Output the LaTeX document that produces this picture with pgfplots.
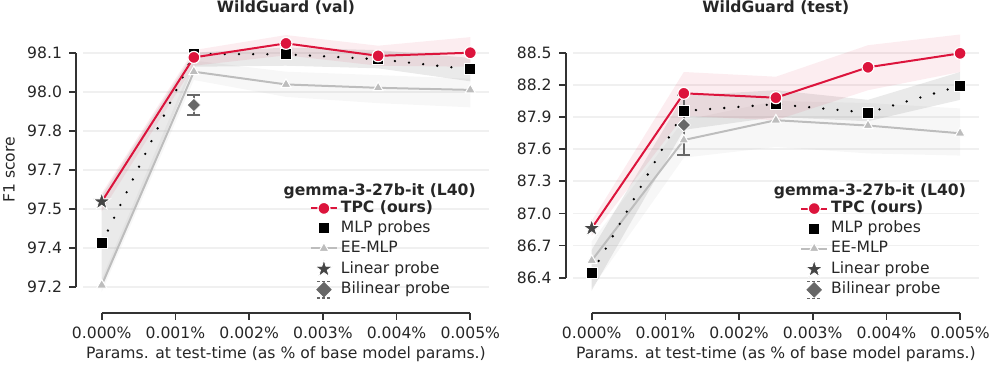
\documentclass[border=0pt]{standalone}
\usepackage{fontspec}
\setmainfont{DejaVu Sans}
\usepackage{pgfplots}
\pgfplotsset{compat=1.18}
\usetikzlibrary{plotmarks}

\definecolor{tpcred}{HTML}{DC143C}
\definecolor{eegray}{HTML}{BDBDBD}
\definecolor{stargray}{HTML}{454545}
\definecolor{diagray}{HTML}{686868}
\definecolor{txt}{HTML}{262626}

% filled five-point star
\pgfdeclareplotmark{fstar}{%
  \pgfpathmoveto{\pgfpointpolar{90}{\pgfplotmarksize}}%
  \pgfpathlineto{\pgfpointpolar{126}{0.382\pgfplotmarksize}}%
  \pgfpathlineto{\pgfpointpolar{162}{\pgfplotmarksize}}%
  \pgfpathlineto{\pgfpointpolar{198}{0.382\pgfplotmarksize}}%
  \pgfpathlineto{\pgfpointpolar{234}{\pgfplotmarksize}}%
  \pgfpathlineto{\pgfpointpolar{270}{0.382\pgfplotmarksize}}%
  \pgfpathlineto{\pgfpointpolar{306}{\pgfplotmarksize}}%
  \pgfpathlineto{\pgfpointpolar{342}{0.382\pgfplotmarksize}}%
  \pgfpathlineto{\pgfpointpolar{18}{\pgfplotmarksize}}%
  \pgfpathlineto{\pgfpointpolar{54}{0.382\pgfplotmarksize}}%
  \pgfpathclose\pgfusepathqfillstroke}

\newcommand{\fs}{\fontsize{7.8}{9.4}\selectfont}

\pgfplotsset{
  panel/.style={
    scale only axis, clip=false,
    axis lines*=left,
    axis line style={draw=none},
    tick align=outside, major tick length=3.5pt,
    tick style={draw=none},
    tick label style={font=\fs, text=txt},
    scaled ticks=false,
    /pgf/number format/assume math mode=true,
    xmin=-0.00025, xmax=0.00525,
    xtick={0,0.001,0.002,0.003,0.004,0.005},
    xticklabels={0.000\%,0.001\%,0.002\%,0.003\%,0.004\%,0.005\%},
    ymajorgrids, grid style={draw=black!6, line width=0.8pt},
    xlabel={Params. at test-time (as \% of base model params.)},
    label style={font=\fs, text=txt},
    every axis title/.style={at={(0.5,1)}, anchor=center, font=\fs\bfseries, text=txt},
    legend cell align=left,
    legend style={draw=none, fill=none, inner sep=0pt, outer sep=0pt,
      row sep=1.5pt, column sep=1.5pt, font=\fs, text=txt, anchor=north west,
      nodes={inner sep=0pt, text height=6.2pt, text depth=2.3pt}},
    legend image code/.code={\draw[mark repeat=2,mark phase=2,#1]
      plot coordinates {(0pt,0pt) (6.5pt,0pt) (13pt,0pt)};},
  },
  tpcband/.style={fill=tpcred, fill opacity=0.08, draw=none, forget plot},
  mlpband/.style={fill=gray, fill opacity=0.17, draw=none, forget plot},
  eeband/.style={fill=eegray, fill opacity=0.12, draw=none, forget plot},
  eeline/.style={eegray, line width=1pt, mark=triangle*, mark size=2.9pt,
    mark options={fill=eegray, draw=white, line width=0.5pt}, forget plot},
  mlpline/.style={black, line width=1.3pt, line cap=round, dash pattern=on 0pt off 7.1pt,
    mark=square*, mark size=2.75pt,
    mark options={solid, fill=black, draw=white, line width=0.5pt}, forget plot},
  tpcline/.style={tpcred, line width=1pt, mark=*, mark size=3pt, mark indices={2,3,4,5},
    mark options={fill=tpcred, draw=white, line width=0.6pt}, forget plot},
  linstar/.style={only marks, mark=fstar, mark size=4.6pt,
    mark options={fill=stargray, draw=white, line width=0.4pt}, forget plot},
  bilin/.style={forget plot, only marks, mark=square*, mark size=2.4pt,
    mark options={rotate=45, fill=diagray, draw=white, line width=0.4pt},
    error bars/.cd, y dir=both, y explicit,
    error bar style={diagray, line width=0.8pt},
    error mark options={rotate=90, diagray, mark size=3.2pt, line width=0.8pt},
    /pgfplots/.cd},
  legendset/.code={
    \addlegendimage{tpcred, line width=1pt, mark=*, mark size=3pt,
      mark options={fill=tpcred, draw=white, line width=0.6pt}}
    \addlegendentry{\textbf{TPC (ours)}}
    \addlegendimage{only marks, mark=square*, mark size=2.75pt,
      mark options={fill=black, draw=white, line width=0.5pt}}
    \addlegendentry{MLP probes}
    \addlegendimage{eegray, line width=1pt, mark=triangle*, mark size=2.9pt,
      mark options={fill=eegray, draw=white, line width=0.5pt}}
    \addlegendentry{EE-MLP}
    \addlegendimage{only marks, mark=fstar, mark size=4.6pt,
      mark options={fill=stargray, draw=white, line width=0.4pt}}
    \addlegendentry{Linear probe}
    \addlegendimage{legend image code/.code={
      \draw[diagray, line width=0.6pt, dash pattern=on 1.5pt off 1pt] (3pt,4.2pt) -- (10pt,4.2pt);
      \draw[diagray, line width=0.6pt, dash pattern=on 1.5pt off 1pt] (3pt,-4.2pt) -- (10pt,-4.2pt);
      \fill[diagray] (6.5pt,3.6pt) -- (10.1pt,0pt) -- (6.5pt,-3.6pt) -- (2.9pt,0pt) -- cycle;}}
    \addlegendentry{Bilinear probe}
  },
}

\begin{document}
\begin{tikzpicture}
\useasboundingbox (0,0) rectangle (498.5pt,183pt);

% ---------------- WildGuard (val)
\begin{axis}[panel,
  at={(41.65pt,39.65pt)}, anchor=south west,
  width=202.7pt, height=117pt,
  ymin=97.2, ymax=98.1,
  ytick={97.2,97.35,97.5,97.65,97.8,97.95,98.1},
  yticklabels={97.2,97.4,97.5,97.7,97.8,98.0,98.1},
  axis x line shift=13.15pt, axis y line shift=3.65pt,
  title={WildGuard (val)},
  title style={at={(axis description cs:0.5,1.191)}},
  ylabel={F1 score},
  ylabel style={at={(axis description cs:-0.183,0.5)}, anchor=center},
  xlabel style={at={(axis description cs:0.5,-0.289)}, anchor=center},
  legend style={at={(axis description cs:0.559,0.371)}},
]
\addplot[eeband] coordinates {(0,97.23) (0.00125,98.07) (0.0025,98.027) (0.00375,98.014) (0.005,98.0)
  (0.005,97.89) (0.00375,97.906) (0.0025,97.93) (0.00125,97.995) (0,97.18)} -- cycle;
\addplot[mlpband] coordinates {(0,97.55) (0.00125,98.10) (0.0025,98.12) (0.00375,98.11) (0.005,98.08)
  (0.005,97.99) (0.00375,98.04) (0.0025,98.05) (0.00125,98.046) (0,97.20)} -- cycle;
\addplot[tpcband] coordinates {(0,97.56) (0.00125,98.11) (0.0025,98.168) (0.00375,98.127) (0.005,98.16)
  (0.005,98.046) (0.00375,98.05) (0.0025,98.09) (0.00125,98.05) (0,97.49)} -- cycle;
\addplot[eeline] coordinates {(0,97.206) (0.00125,98.027) (0.0025,97.978) (0.00375,97.965) (0.005,97.957)};
\addplot[mlpline] coordinates {(0,97.367) (0.00125,98.095) (0.0025,98.094) (0.00375,98.075) (0.005,98.036)};
\addplot[tpcline] coordinates {(0,97.527) (0.00125,98.082) (0.0025,98.136) (0.00375,98.088) (0.005,98.100)};
\addplot[linstar] coordinates {(0,97.527)};
\addplot[bilin] coordinates {(0.00125,97.899) +- (0,0.039)};
\pgfplotsset{legendset}
\node[font=\fs\bfseries, text=txt] at (rel axis cs:0.731,0.409) {gemma-3-27b-it (L40)};
\end{axis}

% ---------------- WildGuard (test)
\begin{axis}[panel,
  at={(286.65pt,44.15pt)}, anchor=south west,
  width=202.6pt, height=112.5pt,
  ymin=86.4, ymax=88.5,
  ytick={86.4,86.7,87.0,87.3,87.6,87.9,88.2,88.5},
  yticklabels={86.4,86.7,87.0,87.3,87.6,87.9,88.2,88.5},
  axis x line shift=17.65pt, axis y line shift=3.8pt,
  title={WildGuard (test)},
  title style={at={(axis description cs:0.5,1.199)}},
  xlabel style={at={(axis description cs:0.5,-0.340)}, anchor=center},
  legend style={at={(axis description cs:0.560,0.345)}},
]
\addplot[eeband] coordinates {(0,86.74) (0.00125,87.87) (0.0025,88.05) (0.00375,88.03) (0.005,87.98)
  (0.005,87.54) (0.00375,87.56) (0.0025,87.62) (0.00125,87.52) (0,86.30)} -- cycle;
\addplot[mlpband] coordinates {(0,86.66) (0.00125,88.10) (0.0025,88.15) (0.00375,88.06) (0.005,88.32)
  (0.005,88.06) (0.00375,87.86) (0.0025,87.90) (0.00125,87.78) (0,86.28)} -- cycle;
\addplot[tpcband] coordinates {(0,86.93) (0.00125,88.32) (0.0025,88.276) (0.00375,88.57) (0.005,88.67)
  (0.005,88.32) (0.00375,88.15) (0.0025,87.87) (0.00125,87.91) (0,86.79)} -- cycle;
\addplot[eeline] coordinates {(0,86.56) (0.00125,87.685) (0.0025,87.87) (0.00375,87.82) (0.005,87.748)};
\addplot[mlpline] coordinates {(0,86.441) (0.00125,87.956) (0.0025,88.02) (0.00375,87.94) (0.005,88.19)};
\addplot[tpcline] coordinates {(0,86.861) (0.00125,88.121) (0.0025,88.08) (0.00375,88.364) (0.005,88.494)};
\addplot[linstar] coordinates {(0,86.861)};
\addplot[bilin] coordinates {(0.00125,87.825) +- (0,0.28)};
\pgfplotsset{legendset}
\node[font=\fs\bfseries, text=txt] at (rel axis cs:0.732,0.385) {gemma-3-27b-it (L40)};
\end{axis}

% offset, trimmed spines with outward ticks (seaborn despine look)
\begin{scope}[black!80, line width=0.8pt]
  % left panel
  \draw (50.864pt,26.5pt) -- (235.14pt,26.5pt);
  \foreach \k in {0,...,5} \draw ({50.864pt+\k*36.855pt},26.5pt) -- ++(0,-3.5pt);
  \draw (38pt,39.65pt) -- (38pt,156.65pt);
  \foreach \k in {0,...,6} \draw (38pt,{39.65pt+\k*19.5pt}) -- ++(-3.5pt,0);
  % right panel
  \draw (295.86pt,26.5pt) -- (480.04pt,26.5pt);
  \foreach \k in {0,...,5} \draw ({295.86pt+\k*36.836pt},26.5pt) -- ++(0,-3.5pt);
  \draw (282.85pt,44.15pt) -- (282.85pt,156.65pt);
  \foreach \k in {0,...,7} \draw (282.85pt,{44.15pt+\k*16.0714pt}) -- ++(-3.5pt,0);
\end{scope}
\end{tikzpicture}
\end{document}
